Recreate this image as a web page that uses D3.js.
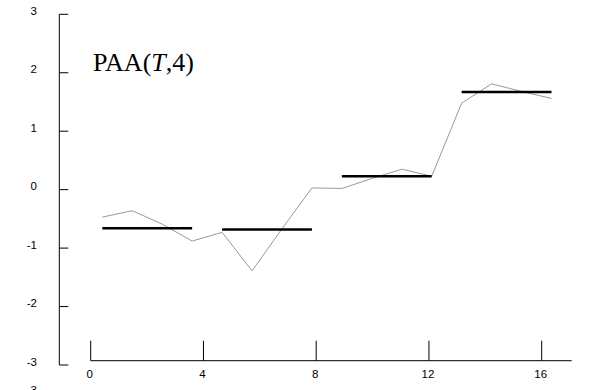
<!DOCTYPE html>
<html>
<head>
<meta charset="utf-8">
<script src="https://cdn.jsdelivr.net/npm/d3@7"></script>
<style>
  html, body { margin: 0; padding: 0; background: #fff; }
  svg { display: block; }
</style>
</head>
<body>
<svg id="chart" width="602" height="390"></svg>
<script>
// Time series T (16 samples) and its 4-segment piecewise aggregate approximation
const seriesValues = [-0.47, -0.36, -0.59, -0.88, -0.73, -1.39, -0.67, 0.03,
                      0.02, 0.19, 0.35, 0.23, 1.48, 1.81, 1.68, 1.56];
const paaValues = [-0.66, -0.68, 0.23, 1.67];
const segmentLength = 4;
const yTicks = [3, 2, 1, 0, -1, -2, -3];
const xTicks = [0, 4, 8, 12, 16];

const svg = d3.select("#chart");

// Scales
const y = d3.scaleLinear().domain([-3, 3]).range([365, 14.3]);
const xAxisScale = d3.scaleLinear().domain([0, 16]).range([90.7, 541.7]);
const xIndex = d3.scaleLinear().domain([0, 15]).range([102.3, 551.5]);

const tickFont = "'Liberation Sans', Arial, sans-serif";
const tickSize = 11.5;

// Y axis: vertical rule with inward ticks, labels on the left
const yAxisX = 59.3;
svg.append("line")
  .attr("x1", yAxisX).attr("x2", yAxisX)
  .attr("y1", y(3)).attr("y2", y(-3))
  .attr("stroke", "#000").attr("stroke-width", 1);

const yg = svg.append("g");
yg.selectAll("line.tick").data(yTicks).join("line")
  .attr("class", "tick")
  .attr("x1", yAxisX).attr("x2", yAxisX + 9)
  .attr("y1", d => y(d)).attr("y2", d => y(d))
  .attr("stroke", "#000").attr("stroke-width", 1);
yg.selectAll("text").data(yTicks).join("text")
  .attr("x", 37)
  .attr("y", d => y(d) + 0.5)
  .attr("text-anchor", "end")
  .attr("font-family", tickFont)
  .attr("font-size", tickSize)
  .attr("fill", "#000")
  .text(d => d);

// Repeated bottom label, partly outside the canvas
svg.append("text")
  .attr("x", 37).attr("y", 394)
  .attr("text-anchor", "end")
  .attr("font-family", tickFont)
  .attr("font-size", tickSize)
  .text(-3);

// X axis: horizontal rule with upward ticks, labels below
const xAxisY = 360.7;
svg.append("line")
  .attr("x1", xAxisScale(0)).attr("x2", 571.7)
  .attr("y1", xAxisY).attr("y2", xAxisY)
  .attr("stroke", "#000").attr("stroke-width", 1);

const xg = svg.append("g");
xg.selectAll("line.tick").data(xTicks).join("line")
  .attr("class", "tick")
  .attr("x1", d => xAxisScale(d)).attr("x2", d => xAxisScale(d))
  .attr("y1", xAxisY).attr("y2", xAxisY - 20)
  .attr("stroke", "#000").attr("stroke-width", 1);
xg.selectAll("text").data(xTicks).join("text")
  .attr("x", d => xAxisScale(d) - 1)
  .attr("y", 378)
  .attr("text-anchor", "middle")
  .attr("font-family", tickFont)
  .attr("font-size", tickSize)
  .attr("fill", "#000")
  .text(d => d);

// Raw series
const line = d3.line()
  .x((d, i) => xIndex(i))
  .y(d => y(d));
svg.append("path")
  .datum(seriesValues)
  .attr("d", line)
  .attr("fill", "none")
  .attr("stroke", "#999")
  .attr("stroke-width", 1);

// PAA segments
svg.selectAll("line.paa").data(paaValues).join("line")
  .attr("class", "paa")
  .attr("x1", (d, i) => xIndex(i * segmentLength))
  .attr("x2", (d, i) => xIndex(i * segmentLength + segmentLength - 1))
  .attr("y1", d => y(d)).attr("y2", d => y(d))
  .attr("stroke", "#000")
  .attr("stroke-width", 2.5);

// Title
const title = svg.append("text")
  .attr("x", 93).attr("y", 71)
  .attr("font-family", "'Liberation Serif', 'Times New Roman', serif")
  .attr("font-size", 26)
  .attr("fill", "#000");
title.append("tspan").text("PAA(");
title.append("tspan").attr("font-style", "italic").text("T");
title.append("tspan").text(",4)");
</script>
</body>
</html>
